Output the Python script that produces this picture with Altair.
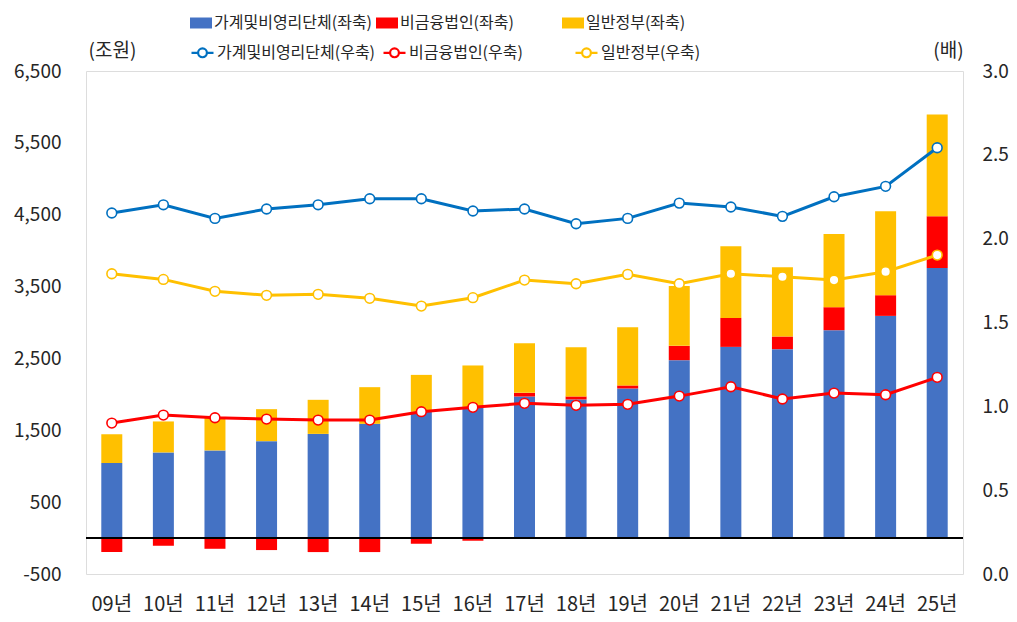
import altair as alt
import pandas as pd

years = ["09년", "10년", "11년", "12년", "13년", "14년", "15년", "16년", "17년",
         "18년", "19년", "20년", "21년", "22년", "23년", "24년", "25년"]

# 좌축 (조원)
hh_bar = [1045, 1192, 1220, 1349, 1450, 1590, 1757, 1826, 1970, 1929, 2082, 2476, 2661, 2629, 2893, 3092, 3759]
nfc_bar = [-195, -107, -149, -167, -195, -195, -79, -37, 51, 42, 42, 199, 403, 176, 320, 288, 719]
gov_bar = [401, 431, 459, 445, 474, 510, 514, 576, 690, 685, 811, 834, 997, 964, 1019, 1168, 1415]

# 우축 (배)
hh_ratio = [2.153, 2.202, 2.121, 2.177, 2.202, 2.238, 2.238, 2.165, 2.177, 2.089, 2.121, 2.212, 2.189, 2.133, 2.250, 2.312, 2.542]
nfc_ratio = [0.900, 0.948, 0.932, 0.924, 0.918, 0.918, 0.968, 0.994, 1.018, 1.006, 1.012, 1.061, 1.117, 1.044, 1.079, 1.069, 1.173]
gov_ratio = [1.791, 1.757, 1.686, 1.662, 1.668, 1.644, 1.598, 1.648, 1.753, 1.731, 1.787, 1.731, 1.791, 1.773, 1.753, 1.803, 1.902]

bar_names = ["가계및비영리단체(좌축)", "비금융법인(좌축)", "일반정부(좌축)"]
bar_colors = ["#4472C4", "#FF0000", "#FFC000"]
line_names = ["가계및비영리단체(우축)", "비금융법인(우축)", "일반정부(우축)"]
line_colors = ["#0070C0", "#FF0000", "#FFC000"]

left_ticks = [-500, 500, 1500, 2500, 3500, 4500, 5500, 6500]
right_ticks = [0.0, 0.5, 1.0, 1.5, 2.0, 2.5, 3.0]

FONT = "Noto Sans CJK KR"
TXT = "#262626"

bar_rows = []
for i, y in enumerate(years):
    for k, (name, vals) in enumerate(zip(bar_names, [hh_bar, nfc_bar, gov_bar])):
        bar_rows.append({"year": y, "series": name, "value": vals[i], "ord": k})
bar_df = pd.DataFrame(bar_rows)

line_rows = []
for i, y in enumerate(years):
    for k, (name, vals) in enumerate(zip(line_names, [hh_ratio, nfc_ratio, gov_ratio])):
        line_rows.append({"year": y, "series": name, "value": vals[i], "ord": k})
line_df = pd.DataFrame(line_rows)

x_enc = alt.X(
    "year:N", sort=years, title=None,
    scale=alt.Scale(paddingInner=0.59, paddingOuter=0.295),
    axis=alt.Axis(labelAngle=0, ticks=False, domain=False, labelPadding=20,
                  labelFont=FONT, labelFontSize=20, labelColor=TXT),
)

bars = alt.Chart(bar_df).mark_bar(size=21).encode(
    x=x_enc,
    y=alt.Y(
        "value:Q", stack="zero",
        scale=alt.Scale(domain=[-500, 6500], nice=False, zero=False),
        axis=alt.Axis(
            values=left_ticks, grid=False, ticks=False, domain=False,
            labelExpr="datum.value < 0 ? '-' + format(-datum.value, ',') : format(datum.value, ',')",
            labelPadding=25, labelFont=FONT, labelFontSize=19, labelColor=TXT,
            title="(조원)", titleAngle=0, titleX=26, titleY=-21, titleAlign="center",
            titleBaseline="middle", titleFont=FONT, titleFontSize=19,
            titleFontWeight="normal", titleColor=TXT,
        ),
    ),
    color=alt.Color(
        "series:N",
        scale=alt.Scale(domain=bar_names, range=bar_colors),
        legend=alt.Legend(
            title=None, orient="none", legendX=104, legendY=-59,
            direction="horizontal", columns=3, gridAlign="all", columnPadding=3,
            symbolType="M-1,-0.5H1V0.5H-1Z", symbolSize=484, symbolStrokeWidth=0,
            labelFont=FONT, labelFontSize=16, labelColor=TXT, labelLimit=400,
            labelOffset=2, padding=0,
        ),
    ),
    order=alt.Order("ord:Q"),
)

zero_rule = alt.Chart(bar_df).mark_rule(color="#000000", strokeWidth=1.5).encode(
    y=alt.datum(0)
)

left_layer = alt.layer(bars, zero_rule)

lines = alt.Chart(line_df).mark_line(
    strokeWidth=3,
    point=alt.OverlayMarkDef(filled=True, fill="white", size=95, strokeWidth=1.6),
).encode(
    x=x_enc,
    y=alt.Y(
        "value:Q",
        scale=alt.Scale(domain=[0, 3], nice=False, zero=True),
        axis=alt.Axis(
            orient="right", values=right_ticks, format=".1f", grid=False,
            ticks=False, domain=False, labelPadding=19,
            labelFont=FONT, labelFontSize=19, labelColor=TXT,
            title="(배)", titleAngle=0, titleX=-15, titleY=-21, titleAlign="center",
            titleBaseline="middle", titleFont=FONT, titleFontSize=19,
            titleFontWeight="normal", titleColor=TXT,
        ),
    ),
    stroke=alt.Stroke(
        "series:N",
        scale=alt.Scale(domain=line_names, range=line_colors),
        legend=alt.Legend(
            title=None, orient="none", legendX=104, legendY=-31,
            direction="horizontal", columns=3, gridAlign="all", columnPadding=3,
            symbolType="M-1,0L-0.4,0M0.4,0L1,0M-0.4,0A0.4,0.4,0,1,0,0.4,0A0.4,0.4,0,1,0,-0.4,0Z",
            symbolSize=484, symbolStrokeWidth=2.2, symbolFillColor="white",
            labelFont=FONT, labelFontSize=16, labelColor=TXT, labelLimit=400,
            labelOffset=2, padding=0,
        ),
    ),
    order=alt.Order("ord:Q"),
)

chart = alt.layer(left_layer, lines).resolve_scale(
    y="independent", color="independent", stroke="independent"
).properties(
    width=877, height=503,
    autosize=alt.AutoSizeParams(type="none"),
    padding={"left": 78, "top": 63, "right": 46, "bottom": 44},
).configure_view(
    stroke="#000000", strokeWidth=1.4
).configure(
    font=FONT
)

chart.save("out.html", embed_options={"renderer": "svg", "actions": False})
